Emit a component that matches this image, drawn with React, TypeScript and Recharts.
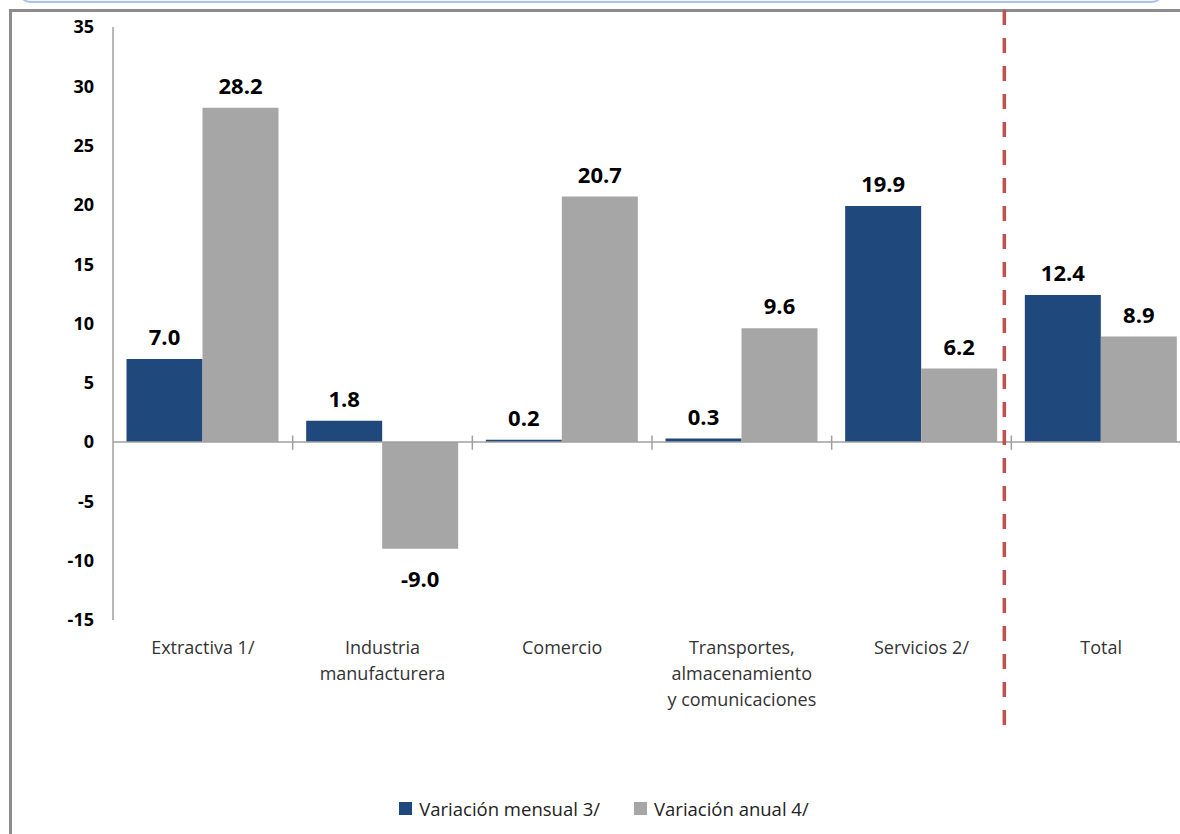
import React from 'react';
import { BarChart, Bar, XAxis, YAxis, ReferenceLine, LabelList, Legend } from 'recharts';

const categories = [
  'Extractiva 1/',
  'Industria manufacturera',
  'Comercio',
  'Transportes, almacenamiento y comunicaciones',
  'Servicios 2/',
  'Total',
];
const categoryLines = [
  ['Extractiva 1/'],
  ['Industria', 'manufacturera'],
  ['Comercio'],
  ['Transportes,', 'almacenamiento', 'y comunicaciones'],
  ['Servicios 2/'],
  ['Total'],
];
const mensual = [7.0, 1.8, 0.2, 0.3, 19.9, 12.4];
const anual = [28.2, -9.0, 20.7, 9.6, 6.2, 8.9];
const yTicks = [-15, -10, -5, 0, 5, 10, 15, 20, 25, 30, 35];
const seriesNames = ['Variación mensual 3/', 'Variación anual 4/'];

const BLUE = '#1F497D';
const GRAY = '#A6A6A6';
const AXIS = '#A0A0A0';
const FONT = '"Open Sans", Lato, sans-serif';

const data = categories.map((name, i) => ({ name, mensual: mensual[i], anual: anual[i] }));

const XTick = (props: any) => {
  const { x, y, payload } = props;
  const idx = categories.indexOf(payload.value);
  const lines = idx >= 0 ? categoryLines[idx] : [String(payload.value)];
  return (
    <text x={x} y={y + 34} textAnchor="middle" fill="#333" fontSize={18} fontFamily={FONT}>
      {lines.map((l, i) => (
        <tspan key={i} x={x} dy={i === 0 ? 0 : 26}>
          {l}
        </tspan>
      ))}
    </text>
  );
};

const ValueLabel = (props: any) => {
  const { x, y, width, height, value } = props;
  const top = Math.min(y, y + height);
  const bottom = Math.max(y, y + height);
  const cy = value < 0 ? bottom + 29 : top - 23;
  return (
    <text
      x={x + width / 2}
      y={cy}
      textAnchor="middle"
      dominantBaseline="central"
      fontSize={22}
      fontWeight="bold"
      fill="#000"
      fontFamily={FONT}
    >
      {Number(value).toFixed(1)}
    </text>
  );
};

const Divider = (props: any) => {
  const { x1, y1, y2 } = props;
  const top = Math.min(y1, y2);
  const bottom = Math.max(y1, y2);
  const x = x1 - 7;
  return (
    <line
      x1={x}
      x2={x}
      y1={top - 17}
      y2={bottom + 108}
      stroke="#C0504D"
      strokeWidth={3.5}
      strokeDasharray="15 13"
    />
  );
};

const LegendContent = () => (
  <div
    style={{
      width: 1180,
      height: 36,
      display: 'flex',
      alignItems: 'center',
      justifyContent: 'center',
      paddingLeft: 28,
      boxSizing: 'border-box',
      fontFamily: FONT,
      fontSize: 18.5,
      color: '#222',
    }}
  >
    {seriesNames.map((n, i) => (
      <div key={n} style={{ display: 'flex', alignItems: 'center', marginLeft: i === 0 ? 0 : 34 }}>
        <span style={{ display: 'inline-block', width: 13, height: 13, background: i === 0 ? BLUE : GRAY, marginRight: 7 }} />
        <span>{n}</span>
      </div>
    ))}
  </div>
);

export default function App() {
  return (
    <div style={{ position: 'absolute', left: 0, top: 0, width: 1180, height: 834, overflow: 'hidden', background: '#fff' }}>
      <div
        style={{
          position: 'absolute',
          left: 19,
          top: -19,
          width: 1144,
          height: 22,
          border: '2px solid #a9c3e7',
          borderRadius: 12,
          background: '#f3f7fc',
          boxSizing: 'border-box',
        }}
      />
      <div
        style={{
          position: 'absolute',
          left: 9,
          top: 9,
          width: 1300,
          height: 1000,
          border: '3px solid #8c8c8c',
          boxSizing: 'border-box',
        }}
      />
      <div style={{ position: 'absolute', left: 0, top: 0 }}>
        <BarChart
          width={1200}
          height={834}
          data={data}
          margin={{ top: 27, right: 9, bottom: 8, left: 0 }}
          barGap={0}
          barCategoryGap={13.5}
        >
          <YAxis
            type="number"
            domain={[-15, 35]}
            ticks={yTicks}
            interval={0}
            width={113}
            axisLine={{ stroke: AXIS, strokeWidth: 1.5 }}
            tickLine={false}
            tickSize={8}
            tickMargin={11}
            tick={{ fill: '#000', fontSize: 18, fontWeight: 'bold', fontFamily: FONT }}
          />
          <XAxis
            dataKey="name"
            type="category"
            height={170}
            axisLine={false}
            tickLine={false}
            tickSize={0}
            tickMargin={0}
            interval={0}
            tick={<XTick />}
          />
          <Bar dataKey="mensual" name={seriesNames[0]} fill={BLUE} isAnimationActive={false}>
            <LabelList dataKey="mensual" content={<ValueLabel />} />
          </Bar>
          <Bar dataKey="anual" name={seriesNames[1]} fill={GRAY} isAnimationActive={false}>
            <LabelList dataKey="anual" content={<ValueLabel />} />
          </Bar>
          <ReferenceLine y={0} stroke={AXIS} strokeWidth={1.5} />
          {categories.slice(0, 5).map((c) => (
            <ReferenceLine
              key={'t' + c}
              segment={[
                { x: c, y: 0.55 },
                { x: c, y: -0.65 },
              ]}
              position="end"
              stroke={AXIS}
              strokeWidth={1.5}
              ifOverflow="visible"
            />
          ))}
          <ReferenceLine x={categories[4]} position="end" ifOverflow="visible" shape={<Divider />} />
          <Legend
            verticalAlign="bottom"
            align="left"
            width={1180}
            height={36}
            content={<LegendContent />}
          />
        </BarChart>
      </div>
    </div>
  );
}
